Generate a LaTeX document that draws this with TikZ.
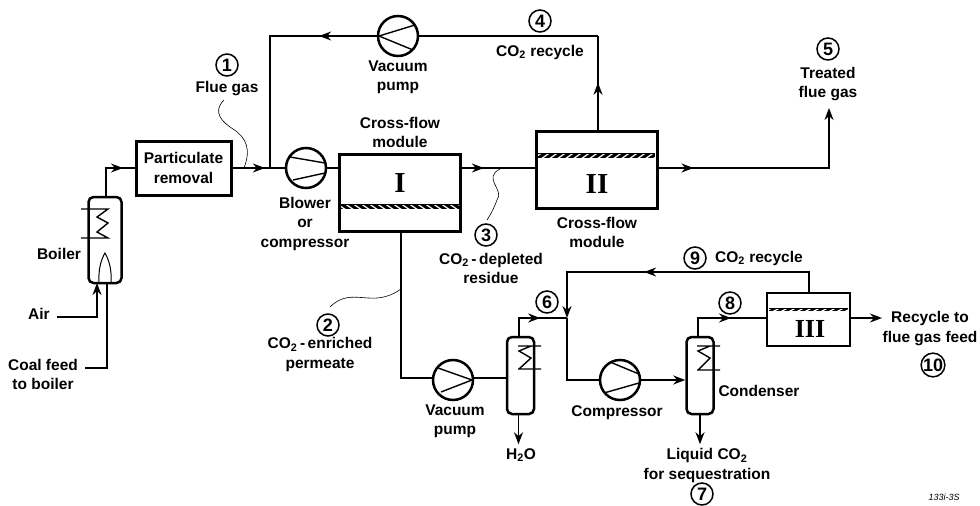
\documentclass[tikz,border=0pt]{standalone}
\usepackage{fontspec}
\setmainfont{Liberation Sans}
\newfontfamily\romanfont{Liberation Serif}
\usetikzlibrary{arrows.meta,decorations.markings}

\begin{document}
\begin{tikzpicture}[x=1pt,y=-1pt,font=\fontsize{15.5}{19.5}\selectfont\bfseries,
  line width=1.7pt, >={Stealth[length=12pt,width=9pt]},
  lbl/.style={align=center,inner sep=0pt},
  num/.style={circle,draw,line width=1.5pt,inner sep=0pt,minimum size=22pt,font=\fontsize{18}{18}\selectfont\bfseries},
  box/.style={draw,line width=3pt,inner sep=0pt,minimum width=#1},
  mach/.style={circle,draw,line width=2.5pt,inner sep=0pt,minimum size=40pt},
  vessel/.style={draw,line width=2.5pt,rounded corners=5pt,inner sep=0pt,minimum width=27pt,minimum height=77pt},
  roman/.style={inner sep=0pt,font=\fontsize{#1}{#1}\selectfont\romanfont\bfseries},
  leader/.style={line width=0.6pt},
  flow/.style={postaction={decorate},decoration={markings,mark=at position #1 with {\arrow{>}}}}]
\useasboundingbox (0,0) rectangle (980,506);
% equipment
\node[box=95pt,minimum height=54pt,align=center] (part) at (183.5,168) {Particulate\\removal};
\node[box=121pt,minimum height=77pt] (modI) at (400,192.5) {};
\node[box=121pt,minimum height=77pt] (modII) at (597,169.5) {};
\node[box=83pt,minimum height=53pt,line width=2.5pt] (modIII) at (808.5,319.5) {};
\node[roman=29] (labI) at (400,183) {I};
\node[roman=29] (labII) at (597,184) {II};
\node[roman=26] (labIII) at (810,329) {III};
\node[mach] (blower) at (306,168) {};
\node[mach] (vac) at (398,36) {};
\node[mach] (vacb) at (453,380) {};
\node[mach] (comp) at (620,380) {};
\node[vessel,minimum width=33pt,minimum height=86pt] (boiler) at (105,240) {};
\node[vessel] (condA) at (520.5,375.5) {};
\node[vessel] (condB) at (700,375.5) {};
% machine blades
\draw[line width=1.4pt] (290,157) -- (325,163) (293,180) -- (325,173);
\draw[line width=1.4pt] (415,25) -- (379,36) -- (413,50);
\draw[line width=1.4pt] (438,368) -- (472,380) -- (441,392);
\draw[line width=1.4pt] (610,362) -- (639,374) (604,393) -- (639,383);
% membranes
\foreach \xa/\xb/\ya/\yb/\s in {341/459/204/209/1,538/655/153/158/-1,769/848/308/311/-1} {
  \fill (\xa,\ya) rectangle (\xb,\yb);
  \begin{scope}
    \clip (\xa,\ya+1) rectangle (\xb,\yb-1);
    \foreach \t in {0,8,...,126}
      \draw[white,line width=1.2pt] (\xa+\t-5*\s,\ya-1) -- (\xa+\t+5*\s,\yb+1);
  \end{scope}
}
% coils
\draw[line width=1.4pt] (81,209) -- (108,209) -- (97,217) -- (108,223) -- (97,232) -- (108,238) -- (81,238);
\draw[line width=1.4pt] (518,346) -- (541,346) (531,346) -- (519,351) -- (531,358) -- (519,369) (518,369) -- (541,369);
\draw[line width=1.4pt] (697,346) -- (720,346) (710,346) -- (698,351) -- (710,358) -- (698,370) (697,370) -- (720,370);
\draw[line width=1pt] (99,283) .. controls (98,268) and (102,258) .. (105,253) .. controls (109,260) and (112,270) .. (111,283);
% coordinates
\coordinate (split) at (270,168);
\coordinate (vacL) at (270,36);
\coordinate (top) at (598,36);
\coordinate (out) at (829,168);
\coordinate (treated) at (829,108);
\coordinate (down) at (401,378);
\coordinate (mix) at (567,318);
\coordinate (ret) at (809,272);
% streams
\draw[flow=0.8] (106,197) -- (106,168) -- (part.west);
\draw[flow=0.62] (part.east) -- (blower.west);
\draw (split) -- (vacL) -- (vac.west);
\draw[flow=0.54] (vac.west) -- (vacL);
\draw (blower.east) -- (blower.east -| modI.west);
\draw[flow=0.3] (modI.east |- split) -- (modII.west |- split);
\draw[flow=0.5] (modII.north -| top) -- (top);
\draw (top) -- (vac.east);
\draw[flow=0.15,->] (modII.east |- split) -- (out) -- (treated);
\draw (modI.south -| down) -- (down) -- (vacb.west |- down);
\draw (vacb.east |- down) -- (condA.west |- down);
\draw[flow=0.6] (519,337) -- (519,318) -- (mix);
\draw[flow=0.6,->] (ret |- modIII.north) -- (ret) -- (mix |- ret) -- (mix);
\draw (mix) -- (mix |- comp) -- (comp.west);
\draw[->] (comp.east) -- (condB.west |- comp.east);
\draw[flow=0.6] (698,337) -- (698,318) -- (modIII.west |- 0,318);
\draw[->] (modIII.east |- 0,318) -- (882,318);
\draw[->] (condA.south) ++(-2,0) -- ++(0,29);
\draw[->] (condB.south) -- ++(0,29);
% feeds
\node[lbl] (air) at (39,314) {Air};
\node[lbl] (coal) at (43,374.5) {Coal feed\\to boiler};
\draw[->] (57,317) -- (97,317) -- (97,283);
\draw (85,368) -- (107,368) -- (107,283);
% leaders
\draw[leader] (224,100) .. controls (212,112) and (222,122) .. (233,129) .. controls (247,138) and (251,150) .. (244,168);
\draw[leader] (401,289) .. controls (372,310) and (352,285) .. (330,307);
\draw[leader] (500,169) .. controls (482,178) and (505,190) .. (497,200) .. controls (494,208) and (491,214) .. (487,220);
% labels
\node[lbl] (boilerlab) at (59,254) {Boiler};
\node[lbl] (blowerlab) at (305,223.5) {Blower\\or\\compressor};
\node[lbl] (crossA) at (400,132.5) {Cross-flow\\module};
\node[lbl] (vaclab) at (398,77.5) {Vacuum\\pump};
\node[lbl] (crossB) at (597,232.5) {Cross-flow\\module};
\node[lbl] (vacblab) at (455,421.5) {Vacuum\\pump};
\node[lbl] (complab) at (617,413) {Compressor};
\node[lbl] (condlab) at (759,391) {Condenser};
\node[lbl] (water) at (521,455) {H$_{\mathbf 2}$O};
\node[num] (n1) at (227,65) {1};
\node[lbl] (n1lab) at (227,89) {Flue gas};
\node[num] (n2) at (328,325) {2};
\node[lbl] (n2lab) at (320,354.5) {CO$_{\mathbf 2}$\,-\,enriched\\permeate};
\node[num] (n3) at (486,235) {3};
\node[lbl] (n3lab) at (491,268.5) {CO$_{\mathbf 2}$\,-\,depleted\\residue};
\node[num] (n4) at (540,21) {4};
\node[lbl] (n4lab) at (540,52) {CO$_{\mathbf 2}$ recycle};
\node[num] (n5) at (828,49) {5};
\node[lbl] (n5lab) at (828,84) {Treated\\flue gas};
\node[num] (n6) at (547,302) {6};
\node[num] (n7) at (702,494) {7};
\node[lbl] (n7lab) at (707,465.5) {Liquid CO$_{\mathbf 2}$\\for sequestration};
\node[num] (n8) at (730,303) {8};
\node[num] (n9) at (695,258) {9};
\node[lbl] (n9lab) at (759,258) {CO$_{\mathbf 2}$ recycle};
\node[num] (n10) at (933,365) {10};
\node[lbl] (n10lab) at (930,328.5) {Recycle to\\flue gas feed};
\node[lbl,font=\fontsize{9}{9}\selectfont\itshape] (tag) at (944,497) {133i-3S};
\end{tikzpicture}
\end{document}
